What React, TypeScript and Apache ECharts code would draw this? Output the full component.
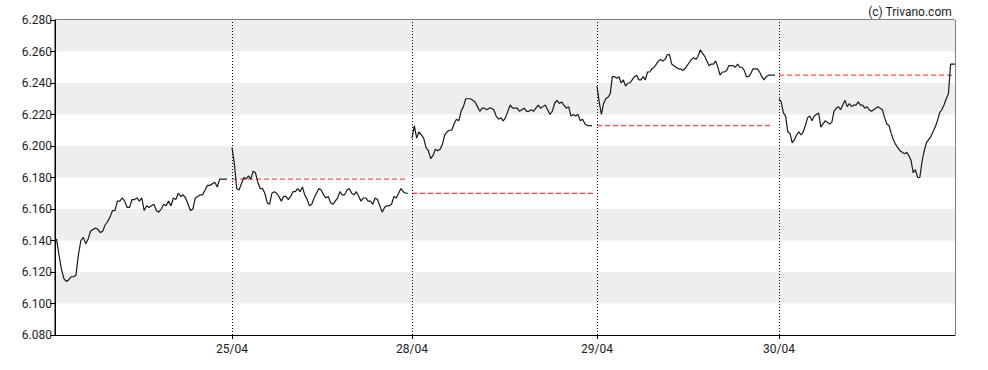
import React, { useEffect, useRef } from "react";
import * as echarts from "echarts";

// Trading days shown on the chart
const dayLabels = ["24/04", "25/04", "28/04", "29/04", "30/04"];
// Length of each trading session on the x scale (time slots)
const dayLengths = [177, 180, 185, 182, 176];

// Intraday prices per day
const day1 = [
  6.141, 6.131, 6.122, 6.116, 6.114, 6.115, 6.117, 6.117, 6.118, 6.131, 6.14, 6.142, 6.138, 6.141, 6.146,
  6.147, 6.148, 6.147, 6.145, 6.146, 6.15, 6.152, 6.155, 6.159, 6.159, 6.165, 6.165, 6.167, 6.165, 6.161,
  6.161, 6.166, 6.166, 6.167, 6.165, 6.167, 6.159, 6.162, 6.161, 6.162, 6.163, 6.159, 6.158, 6.16, 6.163,
  6.162, 6.165, 6.162, 6.167, 6.166, 6.17, 6.168, 6.169, 6.167, 6.163, 6.159, 6.16, 6.167, 6.168, 6.169,
  6.169, 6.172, 6.175, 6.175, 6.176, 6.177, 6.174, 6.179, 6.179, 6.179, 6.179,
];
const day2 = [
  6.199, 6.189, 6.173, 6.172, 6.176, 6.18, 6.179, 6.181, 6.179, 6.184, 6.183, 6.177, 6.173, 6.173, 6.17,
  6.164, 6.163, 6.17, 6.171, 6.17, 6.168, 6.165, 6.168, 6.168, 6.166, 6.168, 6.171, 6.171, 6.173, 6.171,
  6.174, 6.169, 6.166, 6.162, 6.163, 6.167, 6.17, 6.173, 6.172, 6.169, 6.167, 6.168, 6.164, 6.163, 6.165,
  6.167, 6.171, 6.169, 6.169, 6.172, 6.173, 6.17, 6.169, 6.171, 6.168, 6.165, 6.167, 6.167, 6.165, 6.165,
  6.163, 6.167, 6.166, 6.162, 6.158, 6.161, 6.162, 6.162, 6.163, 6.168, 6.167, 6.17, 6.173, 6.171, 6.17,
  6.17,
];
const day3 = [
  6.205, 6.213, 6.205, 6.209, 6.207, 6.205, 6.199, 6.197, 6.192, 6.194, 6.198, 6.197, 6.198, 6.201, 6.207,
  6.209, 6.21, 6.21, 6.214, 6.217, 6.216, 6.222, 6.225, 6.23, 6.23, 6.23, 6.229, 6.228, 6.225, 6.222,
  6.224, 6.224, 6.223, 6.224, 6.224, 6.223, 6.219, 6.217, 6.218, 6.216, 6.218, 6.222, 6.226, 6.224, 6.224,
  6.224, 6.222, 6.223, 6.224, 6.222, 6.222, 6.223, 6.222, 6.224, 6.226, 6.224, 6.225, 6.226, 6.223, 6.22,
  6.222, 6.227, 6.229, 6.227, 6.228, 6.226, 6.224, 6.225, 6.219, 6.22, 6.219, 6.22, 6.216, 6.217, 6.214,
  6.213, 6.213, 6.213,
];
const day4 = [
  6.238, 6.228, 6.22, 6.227, 6.23, 6.231, 6.233, 6.244, 6.244, 6.243, 6.244, 6.24, 6.242, 6.238, 6.24,
  6.24, 6.242, 6.244, 6.245, 6.242, 6.242, 6.244, 6.242, 6.247, 6.247, 6.249, 6.25, 6.252, 6.254, 6.255,
  6.254, 6.255, 6.258, 6.258, 6.252, 6.251, 6.25, 6.249, 6.249, 6.248, 6.249, 6.251, 6.253, 6.255, 6.256,
  6.255, 6.257, 6.261, 6.259, 6.257, 6.254, 6.251, 6.252, 6.252, 6.254, 6.25, 6.245, 6.247, 6.247, 6.248,
  6.251, 6.251, 6.251, 6.25, 6.252, 6.25, 6.25, 6.248, 6.244, 6.244, 6.246, 6.249, 6.249, 6.249, 6.247,
  6.244, 6.242, 6.244, 6.245, 6.245, 6.245, 6.245,
];
const day5 = [
  6.23, 6.228, 6.221, 6.219, 6.209, 6.208, 6.202, 6.204, 6.207, 6.209, 6.207, 6.209, 6.213, 6.218, 6.219,
  6.216, 6.219, 6.22, 6.221, 6.212, 6.214, 6.216, 6.215, 6.214, 6.215, 6.222, 6.224, 6.225, 6.223, 6.226,
  6.229, 6.225, 6.227, 6.225, 6.226, 6.226, 6.228, 6.226, 6.226, 6.224, 6.225, 6.223, 6.222, 6.223, 6.224,
  6.225, 6.224, 6.223, 6.218, 6.214, 6.213, 6.208, 6.204, 6.201, 6.199, 6.197, 6.196, 6.195, 6.196, 6.194,
  6.191, 6.183, 6.185, 6.18, 6.18, 6.19, 6.197, 6.202, 6.204, 6.206, 6.209, 6.212, 6.216, 6.221, 6.223,
  6.226, 6.23, 6.233, 6.252, 6.252, 6.252,
];
const dayPrices = [day1, day2, day3, day4, day5];

// Previous close reference per day (none for the first day)
const prevClose: (number | null)[] = [null, 6.179, 6.17, 6.213, 6.245];

// Y axis scale
const yMin = 6.08;
const yMax = 6.28;
const yStep = 0.02;

// layout of samples inside each session (slots before first / after last sample)
const sampleLead = [1.5, 0, 0, 0, 0];
const sampleTrail = [5, 4, 5, 4, 0];
const refTrail = [0, 6, 4, 8, 0];

export default function App() {
  const ref = useRef<HTMLDivElement>(null);

  useEffect(() => {
    if (!ref.current) return;
    const chart = echarts.init(ref.current, null, { renderer: "svg" });

    const dayStarts: number[] = [];
    let acc = 0;
    dayLengths.forEach((l) => {
      dayStarts.push(acc);
      acc += l;
    });
    const total = acc;
    const boundaries = dayStarts.slice(1);

    const priceSeries = dayPrices.map((vals, d) => {
      const x0 = dayStarts[d] + sampleLead[d];
      const x1 = dayStarts[d] + dayLengths[d] - sampleTrail[d];
      const n = vals.length;
      const data = vals.map((v, i) => [x0 + ((x1 - x0) * i) / (n - 1), v]);
      const s: any = {
        type: "line",
        data,
        showSymbol: false,
        symbol: "none",
        z: 3,
        lineStyle: { color: "#1a1a1a", width: 1.2 },
      };
      if (d === 0) {
        s.markLine = {
          symbol: "none",
          silent: true,
          label: { show: false },
          lineStyle: { color: "#000", width: 1, type: [1, 2] },
          data: boundaries.map((b) => ({ xAxis: b })),
        };
      }
      return s;
    });

    const refSeries: any[] = [];
    prevClose.forEach((p, d) => {
      if (p == null) return;
      const xs = dayStarts[d];
      const xe = dayStarts[d] + dayLengths[d] - refTrail[d];
      refSeries.push({
        type: "line",
        data: [
          [xs, p],
          [xe, p],
        ],
        showSymbol: false,
        symbol: "none",
        z: 2,
        lineStyle: {
          color: d === 2 ? "#e01010" : "#ff5050",
          width: d === 2 ? 1 : 1.4,
          type: [5, 3],
        },
      });
    });

    const labelFont = "Roboto, 'Liberation Sans', sans-serif";

    chart.setOption({
      animation: false,
      backgroundColor: "#ffffff",
      title: {
        text: "(c) Trivano.com",
        right: 31,
        top: 1,
        textStyle: { fontSize: 12, fontWeight: "normal", color: "#222", fontFamily: labelFont },
      },
      grid: {
        left: 55,
        right: 33,
        top: 20,
        bottom: 35,
        show: true,
        borderColor: "#000",
        borderWidth: 1,
        backgroundColor: "transparent",
      },
      xAxis: {
        type: "value",
        min: 0,
        max: total,
        axisLine: { lineStyle: { color: "#000", width: 1 } },
        axisTick: { show: true, customValues: boundaries, length: 4, lineStyle: { color: "#000" } },
        axisLabel: {
          customValues: boundaries,
          margin: 8,
          fontSize: 12,
          color: "#222",
          fontFamily: labelFont,
          formatter: (v: number) => {
            const idx = dayStarts.findIndex((s) => Math.abs(s - v) < 0.5);
            return idx >= 0 ? dayLabels[idx] : "";
          },
        },
        splitLine: { show: false },
      },
      yAxis: {
        type: "value",
        min: yMin,
        max: yMax,
        interval: yStep,
        axisLine: { show: true, lineStyle: { color: "#000", width: 1 } },
        axisTick: { show: true, length: 5, lineStyle: { color: "#000" } },
        axisLabel: {
          margin: 3,
          fontSize: 12,
          color: "#222",
          fontFamily: labelFont,
          formatter: (v: number) => v.toFixed(3),
        },
        splitLine: { show: false },
        splitArea: { show: true, areaStyle: { color: ["#ffffff", "#eeeeee"] } },
      },
      series: [...refSeries, ...priceSeries],
    });

    return () => chart.dispose();
  }, []);

  return (
    <div
      ref={ref}
      style={{ position: "fixed", left: 0, top: 0, width: 988, height: 370, background: "#fff" }}
    />
  );
}
